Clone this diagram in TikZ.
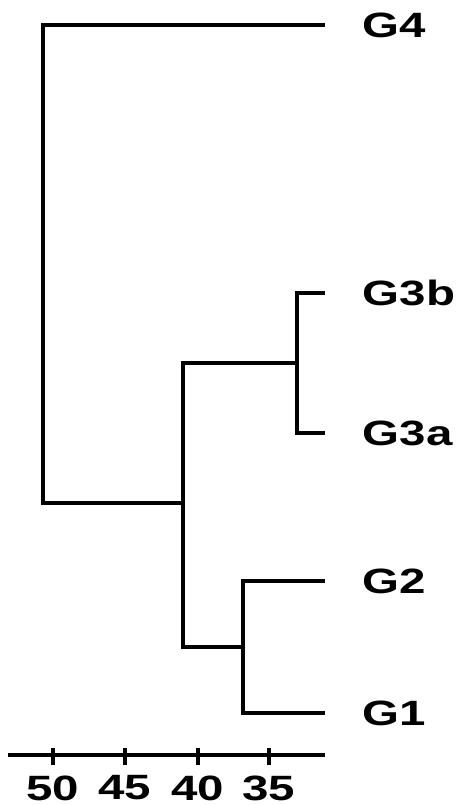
\documentclass[tikz,border=0pt]{standalone}
\usepackage{fontspec}
\setmainfont{Liberation Sans}
\usetikzlibrary{positioning,calc}
\tikzset{
  branch/.style={line width=0.9pt},
  leaflabel/.style={anchor=west,inner sep=0pt,font=\fontsize{10}{12}\selectfont\bfseries},
  ticklabel/.style={inner sep=0pt,font=\fontsize{10}{12}\selectfont\bfseries}
}
\newcommand{\wide}[1]{\scalebox{1.35}[1]{#1}}
\begin{document}
\begin{tikzpicture}[x=0.01cm,y=-0.01cm]
        \useasboundingbox (0,0) rectangle (456,805);
        % leaf ends
        \coordinate (e4) at (325,25);
        \coordinate (e3b) at (325,293);
        \coordinate (e3a) at (325,433);
        \coordinate (e2) at (325,581);
        \coordinate (e1) at (325,713);
        % joins
        \coordinate (j3) at (297,363);
        \coordinate (j12) at (243,647);
        \coordinate (j123) at (183,503);
        \coordinate (root) at (43,503);
        % draw branches
        \draw[branch] (e3b) -| (j3) |- (e3a);
        \draw[branch] (e2) -| (j12) |- (e1);
        \draw[branch] (j3) -| (j123) |- (j12);
        \draw[branch] (e4) -| (root) -- (j123);
        % draw leaf labels
        \node[leaflabel,right=0.37cm of e4] (g4) {\wide{G4}};
        \node[leaflabel,right=0.37cm of e3b] (g3b) {\wide{G3b}};
        \node[leaflabel,right=0.37cm of e3a] (g3a) {\wide{G3a}};
        \node[leaflabel,right=0.37cm of e2] (g2) {\wide{G2}};
        \node[leaflabel,right=0.37cm of e1] (g1) {\wide{G1}};
        % draw axis
        \coordinate (axl) at (8,755);
        \coordinate (axr) at (325,755);
        \draw[branch] (axl) -- (axr);
        \foreach \x/\lab in {53/50,125/45,198/40,269/35}
        {
        \draw[branch] (\x,748) -- (\x,765);
        \node[ticklabel] (t\lab) at (\x,788) {\wide{\lab}};
        }
        \end{tikzpicture}
\end{document}
